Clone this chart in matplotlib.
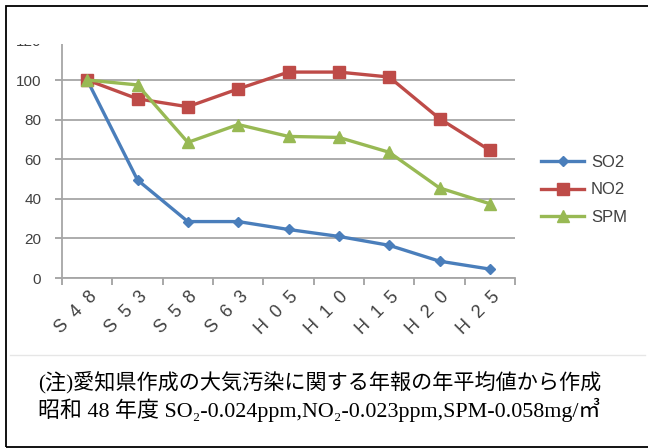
import matplotlib
matplotlib.use('Agg')
import matplotlib.pyplot as plt
from matplotlib.patches import Rectangle
from matplotlib.lines import Line2D

# data (S48 = 100)
years = ['S48', 'S53', 'S58', 'S63', 'H05', 'H10', 'H15', 'H20', 'H25']
so2 = [100, 49.5, 28.5, 28.5, 24.5, 21, 16.5, 8.5, 4.5]
no2 = [100, 90.5, 86.5, 95.5, 104, 104, 101.5, 80.5, 64.5]
spm = [100, 97.5, 68.5, 77.5, 71.5, 71, 63.5, 45.5, 37.5]
yticks = [0, 20, 40, 60, 80, 100, 120]

note1 = '(注)愛知県作成の大気汚染に関する年報の年平均値から作成'
note2 = '昭和 48 年度 SO₂-0.024ppm,NO₂-0.023ppm,SPM-0.058mg/㎥'

W, H = 648, 448
fig = plt.figure(figsize=(W / 100, H / 100), dpi=100)

def fx(px):
    return px / W

def fy(py):
    return 1 - py / H

# plot area
ax = fig.add_axes([fx(62), fy(278), fx(515) - fx(62), fy(40.4) - fy(278)])
x = range(len(years))
ax.plot(x, so2, color='#4a7ebb', lw=2.4, marker='D', ms=5.5, label='SO2', zorder=3)
ax.plot(x, no2, color='#be4b48', lw=2.4, marker='s', ms=8.5, label='NO2', zorder=3)
ax.plot(x, spm, color='#98b954', lw=2.4, marker='^', ms=9, label='SPM', zorder=3)

ax.set_xlim(-0.5, len(years) - 0.5)
ax.set_ylim(0, 120)
ax.set_yticks(yticks)
ax.set_yticklabels([str(v) for v in yticks], fontsize=11, color='#404040',
                   family='Liberation Sans')
ax.set_xticks([i - 0.5 for i in range(len(years) + 1)])
ax.set_xticklabels([])
ax.tick_params(axis='both', color='#999999', width=1.2, length=5)
ax.tick_params(axis='y', pad=10)
ax.grid(axis='y', color='#a6a6a6', lw=1.3)
ax.set_axisbelow(True)
for s in ['top', 'right']:
    ax.spines[s].set_visible(False)
for s in ['left', 'bottom']:
    ax.spines[s].set_color('#a6a6a6')
    ax.spines[s].set_linewidth(1.3)

# category labels, rotated, letters spread out like the original
for i, lab in enumerate(years):
    ax.text(i + 0.02, -5, '  '.join(lab), rotation=45, ha='right', va='top',
            rotation_mode='anchor', fontsize=13, color='#404040',
            family='Liberation Sans')

leg = fig.legend(handles=ax.get_lines(), loc='upper left',
                 bbox_to_anchor=(fx(526), fy(140)), frameon=False,
                 handlelength=2.6, labelspacing=0.75, handletextpad=0.4,
                 prop={'family': 'Liberation Sans', 'size': 12})
for t in leg.get_texts():
    t.set_color('#404040')

# chart was cropped at the top: hide most of the 120 row
fig.patches.append(Rectangle((fx(7), fy(44.5)), fx(640) - fx(7), fy(7) - fy(44.5),
                             transform=fig.transFigure, facecolor='white',
                             edgecolor='none', zorder=5))

# faint frame of the chart object and outer border
fig.lines.append(Line2D([fx(10), fx(645)], [fy(355), fy(355)],
                        transform=fig.transFigure, color='#e6e6e6', lw=1))
fig.patches.append(Rectangle((fx(6), fy(446.5)), fx(700) - fx(6), fy(6) - fy(446.5),
                             transform=fig.transFigure, facecolor='none',
                             edgecolor='black', lw=1.3, zorder=6))

fam = ['Liberation Serif', 'Noto Sans CJK JP']
fig.text(fx(38), fy(383), note1, fontsize=15.2, family=fam, va='center', ha='left')
fig.text(fx(38), fy(410), note2, fontsize=15.8, family=fam, va='center', ha='left')

fig.savefig('out.png', dpi=100)
